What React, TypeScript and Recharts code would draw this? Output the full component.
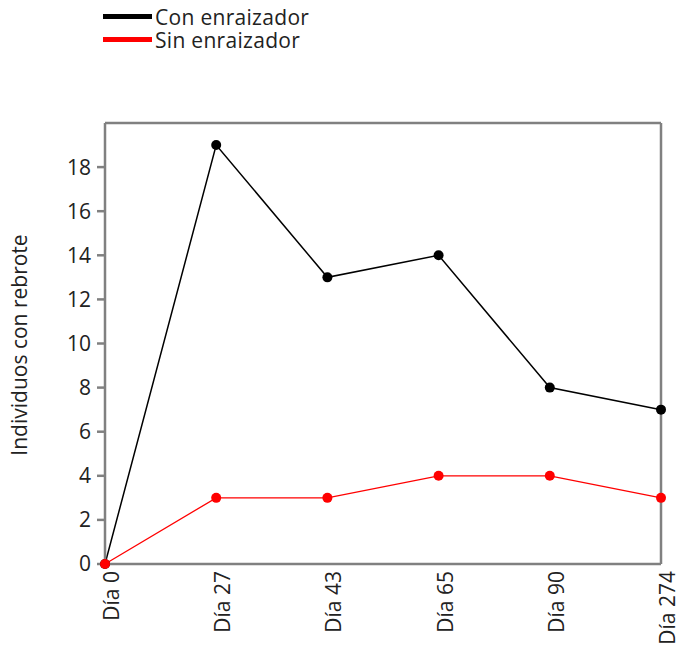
import React from 'react';
import { LineChart, Line, XAxis, YAxis, ReferenceLine } from 'recharts';

const categories = ['Día 0', 'Día 27', 'Día 43', 'Día 65', 'Día 90', 'Día 274'];
const conEnraizador = [0, 19, 13, 14, 8, 7];
const sinEnraizador = [0, 3, 3, 4, 4, 3];
const yTicks = [0, 2, 4, 6, 8, 10, 12, 14, 16, 18];
const yMax = 20;

const data = categories.map((c, i) => ({ cat: c, con: conEnraizador[i], sin: sinEnraizador[i] }));

const FONT = '"Open Sans", sans-serif';
const FS = 21;
const FRAME = '#808080';

const XTick = (props: any) => {
  const { x, y, payload } = props;
  return (
    <text transform={`translate(${x},${y}) rotate(-90)`} textAnchor="end" dy={14} fontFamily={FONT} fontSize={FS} fill="#222">
      {payload.value}
    </text>
  );
};

const legendItems = [
  { name: 'Con enraizador', color: '#000' },
  { name: 'Sin enraizador', color: '#ff0000' },
];

export default function App() {
  return (
    <div style={{ position: 'absolute', left: 0, top: 0, width: 676, height: 646 }}>
      <div style={{ position: 'absolute', left: 103, top: 5, fontFamily: FONT, fontSize: FS, color: '#222', lineHeight: '22px', zIndex: 2 }}>
        {legendItems.map((it) => (
          <div key={it.name} style={{ display: 'flex', alignItems: 'center', height: 23 }}>
            <span style={{ display: 'inline-block', width: 49, height: 5, background: it.color, marginRight: 3 }} />
            <span style={{ lineHeight: '22px', letterSpacing: '0.3px' }}>{it.name}</span>
          </div>
        ))}
      </div>
      <LineChart width={676} height={646} data={data} margin={{ top: 123, right: 15, left: 0, bottom: 0 }}>
        <XAxis
          dataKey="cat"
          height={82}
          axisLine={{ stroke: FRAME, strokeWidth: 2.5 }}
          tickLine={false}
          tickSize={0}
          tickMargin={7}
          tick={<XTick />}
          interval={0}
        />
        <YAxis
          width={105}
          domain={[0, yMax]}
          ticks={yTicks}
          axisLine={{ stroke: FRAME, strokeWidth: 2.5 }}
          tickLine={{ stroke: FRAME, strokeWidth: 2.5 }}
          tickSize={8}
          tickMargin={6}
          tick={{ fontFamily: FONT, fontSize: FS, fill: '#222' }}
          label={() => (
            <text transform="translate(27,345) rotate(-90)" textAnchor="middle" fontFamily={FONT} fontSize={FS} fill="#222">
              Individuos con rebrote
            </text>
          )}
        />
        <ReferenceLine y={yMax} stroke={FRAME} strokeWidth={2.5} />
        <ReferenceLine x={categories[categories.length - 1]} stroke={FRAME} strokeWidth={2.5} />
        <Line dataKey="con" stroke="#000" strokeWidth={1.5} dot={{ r: 5, fill: '#000', stroke: 'none' }} isAnimationActive={false} />
        <Line dataKey="sin" stroke="#ff0000" strokeWidth={1.3} dot={{ r: 5, fill: '#ff0000', stroke: 'none' }} isAnimationActive={false} />
      </LineChart>
    </div>
  );
}
